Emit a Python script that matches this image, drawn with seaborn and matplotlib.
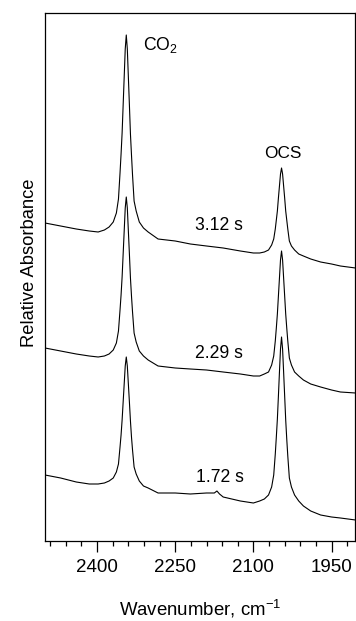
import numpy as np
import pandas as pd
import matplotlib
matplotlib.use("Agg")
import matplotlib.pyplot as plt
from matplotlib.ticker import MultipleLocator
import seaborn as sns

# wavenumber grid (cm-1), shared by the 3.12 s and 2.29 s traces
wn = [2500, 2470, 2440, 2415, 2398, 2386, 2377, 2369, 2363, 2359,
      2356, 2354, 2352, 2350, 2348, 2346, 2344, 2342, 2340, 2338,
      2336, 2334, 2332, 2329, 2325, 2319, 2311, 2302, 2283, 2250,
      2221, 2190, 2158, 2125, 2100, 2088, 2079, 2071, 2065, 2061,
      2058, 2056, 2054, 2052, 2050, 2048, 2046, 2044, 2042, 2040,
      2038, 2036, 2034, 2031, 2027, 2021, 2013, 2004, 1990, 1971,
      1950, 1933, 1904]

abs_312 = [3.18, 3.15, 3.12, 3.10, 3.09, 3.11, 3.14, 3.19, 3.28, 3.42,
           3.68, 3.87, 4.08, 4.36, 4.64, 4.92, 5.06, 4.92, 4.64, 4.36,
           4.07, 3.86, 3.66, 3.40, 3.30, 3.19, 3.13, 3.09, 3.02, 3.00,
           2.97, 2.95, 2.93, 2.90, 2.88, 2.88, 2.89, 2.91, 2.96, 3.02,
           3.12, 3.21, 3.30, 3.43, 3.55, 3.67, 3.73, 3.67, 3.55, 3.43,
           3.30, 3.21, 3.12, 3.00, 2.95, 2.91, 2.87, 2.85, 2.82, 2.79,
           2.77, 2.75, 2.73]

abs_229 = [1.93, 1.90, 1.87, 1.85, 1.84, 1.85, 1.87, 1.91, 1.98, 2.10,
           2.31, 2.46, 2.64, 2.87, 3.10, 3.33, 3.44, 3.33, 3.10, 2.87,
           2.63, 2.45, 2.29, 2.08, 1.99, 1.90, 1.85, 1.81, 1.75, 1.73,
           1.72, 1.71, 1.69, 1.67, 1.65, 1.65, 1.67, 1.69, 1.76, 1.85,
           2.00, 2.13, 2.27, 2.45, 2.63, 2.81, 2.90, 2.81, 2.63, 2.45,
           2.27, 2.13, 2.00, 1.83, 1.76, 1.69, 1.65, 1.61, 1.57, 1.54,
           1.51, 1.49, 1.48]

# the 1.72 s trace has a small bump near 2170, so it gets its own grid
wn_172 = [2500, 2470, 2440, 2415, 2398, 2386, 2377, 2369, 2363, 2359,
          2356, 2354, 2352, 2350, 2348, 2346, 2344, 2342, 2340, 2338,
          2336, 2334, 2332, 2329, 2325, 2319, 2311, 2302, 2283, 2250,
          2221, 2190, 2175, 2170, 2165, 2158, 2125, 2100, 2088, 2079,
          2071, 2065, 2061, 2058, 2056, 2054, 2052, 2050, 2048, 2046,
          2044, 2042, 2040, 2038, 2036, 2034, 2031, 2027, 2021, 2013,
          2004, 1990, 1971, 1950, 1933, 1904]

abs_172 = [0.66, 0.63, 0.59, 0.57, 0.57, 0.58, 0.60, 0.63, 0.69, 0.77,
           0.94, 1.06, 1.21, 1.39, 1.57, 1.75, 1.84, 1.75, 1.57, 1.39,
           1.20, 1.04, 0.91, 0.74, 0.67, 0.60, 0.55, 0.53, 0.48, 0.48,
           0.47, 0.48, 0.48, 0.50, 0.47, 0.44, 0.40, 0.38, 0.40, 0.42,
           0.46, 0.54, 0.66, 0.87, 1.04, 1.22, 1.45, 1.69, 1.92, 2.04,
           1.92, 1.69, 1.45, 1.21, 1.02, 0.85, 0.63, 0.54, 0.46, 0.40,
           0.35, 0.30, 0.26, 0.24, 0.23, 0.21]

trace_labels = ["3.12 s", "2.29 s", "1.72 s"]

df = pd.concat([
    pd.DataFrame({"wn": wn, "absorbance": abs_312, "trace": trace_labels[0]}),
    pd.DataFrame({"wn": wn, "absorbance": abs_229, "trace": trace_labels[1]}),
    pd.DataFrame({"wn": wn_172, "absorbance": abs_172, "trace": trace_labels[2]}),
])

sns.set_style("ticks", rc={"text.color": "black", "axes.labelcolor": "black",
                           "xtick.color": "black", "ytick.color": "black",
                           "axes.edgecolor": "black"})
plt.rcParams["font.family"] = ["Liberation Sans", "DejaVu Sans"]
plt.rcParams["mathtext.fontset"] = "custom"
plt.rcParams["mathtext.rm"] = "Liberation Sans"
plt.rcParams["mathtext.it"] = "Liberation Sans:italic"

fig = plt.figure(figsize=(3.56, 6.21), dpi=100)
ax = fig.add_axes([45 / 356, 80 / 621, 310 / 356, 528 / 621])

sns.lineplot(data=df, x="wn", y="absorbance", units="trace", estimator=None,
             color="black", linewidth=0.8, ax=ax)

ax.set_xlim(2500, 1905)
ax.set_ylim(0, 5.28)
ax.set_yticks([])
ax.xaxis.set_major_locator(MultipleLocator(150))
ax.xaxis.set_minor_locator(MultipleLocator(30))
ax.tick_params(axis="x", which="major", direction="out", length=8, width=0.9,
               labelsize=13.5, pad=5)
ax.tick_params(axis="x", which="minor", direction="out", length=3.6, width=0.9)
for side in ["left", "right", "top", "bottom"]:
    ax.spines[side].set_visible(True)
    ax.spines[side].set_linewidth(0.9)

ax.set_xlabel("Wavenumber, cm$^{-1}$", fontsize=13.4, labelpad=16)
ax.set_ylabel("Relative Absorbance", fontsize=13.2)
ax.yaxis.set_label_coords(-0.022, 0.527)

# peak and time annotations
ax.text(2311, 4.96, "CO$_2$", fontsize=12.7, ha="left", va="center")
ax.text(2044, 3.88, "OCS", fontsize=12.4, ha="center", va="center")
ax.text(2167, 3.16, trace_labels[0], fontsize=12.7, ha="center", va="center")
ax.text(2167, 1.88, trace_labels[1], fontsize=12.7, ha="center", va="center")
ax.text(2165, 0.64, trace_labels[2], fontsize=12.7, ha="center", va="center")

fig.savefig("out.png", dpi=100)
